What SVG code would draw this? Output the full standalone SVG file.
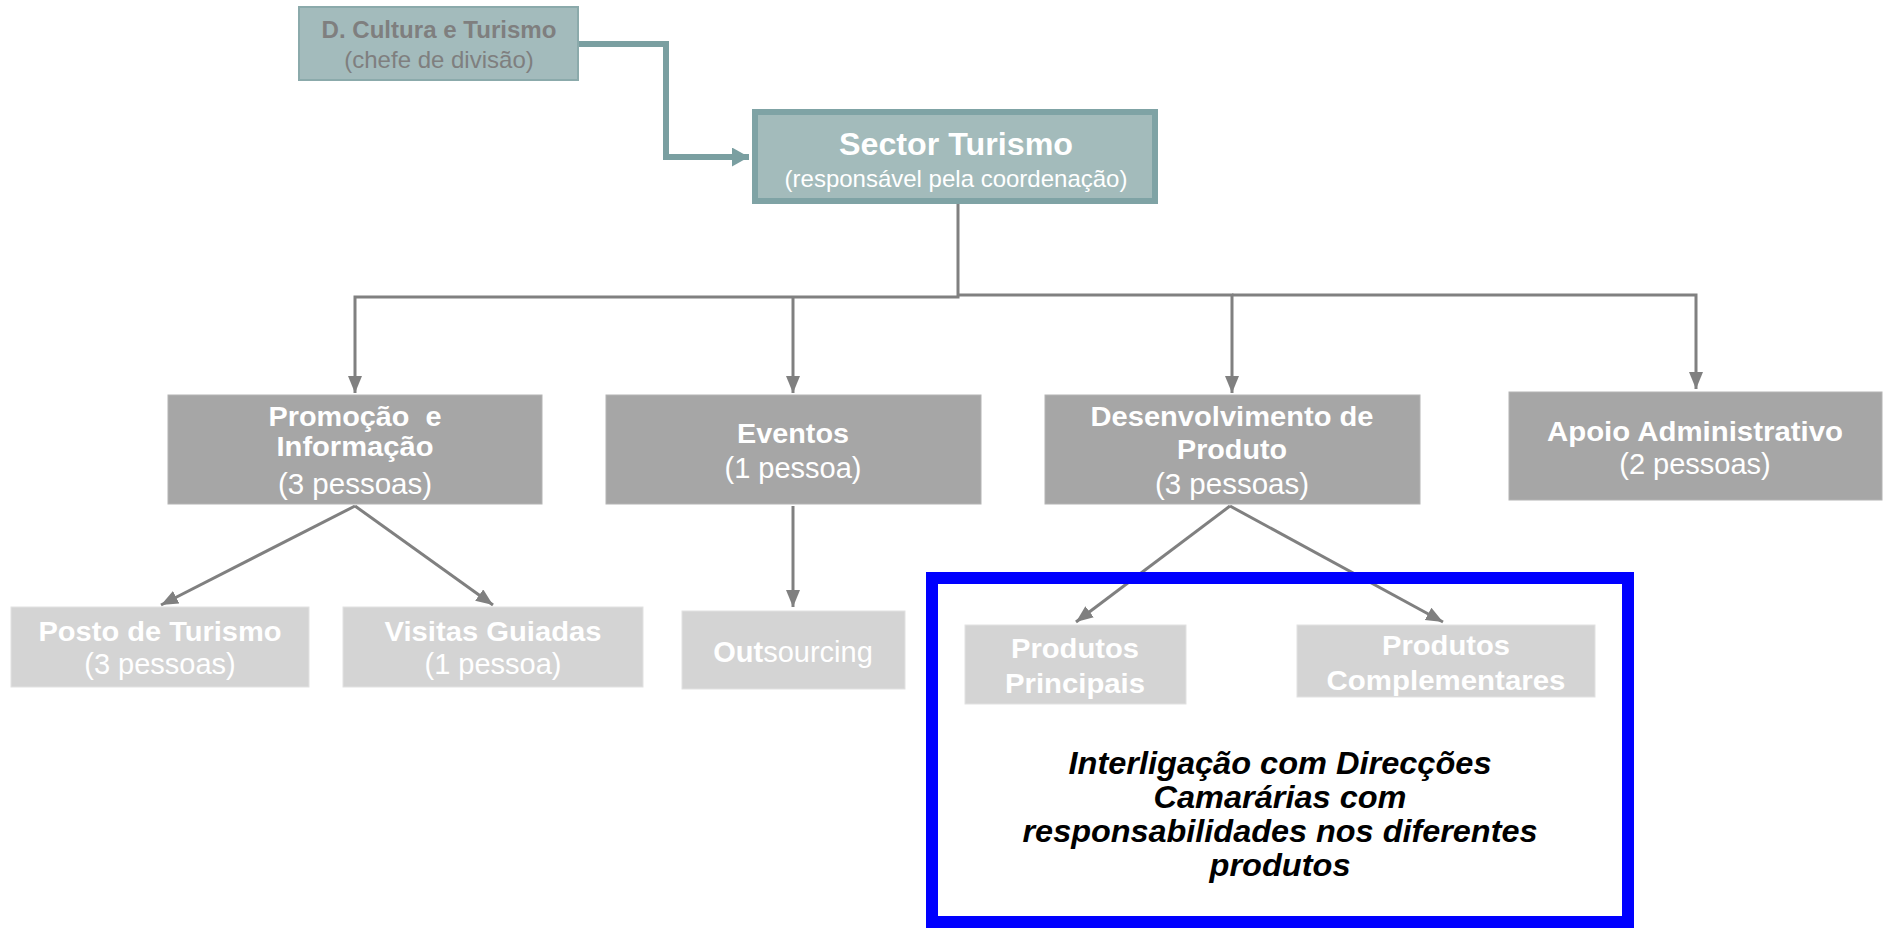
<svg xmlns="http://www.w3.org/2000/svg" width="1885" height="928" viewBox="0 0 1885 928">
<defs>
<style>
.t{font-family:"Liberation Sans",Arial,sans-serif;text-anchor:middle}
.b{font-weight:bold}
.w{fill:#FFFFFF}
.i{font-style:italic;font-weight:bold;fill:#000000;font-size:31px}
.l2{fill:#A6A6A6;stroke:#B4B4B4;stroke-width:1}
.l3{fill:#D4D4D4;stroke:#E2E2E2;stroke-width:1}
.gc{fill:none;stroke:#808080;stroke-width:3}
</style>
<marker id="ag" markerUnits="userSpaceOnUse" markerWidth="18" markerHeight="16" refX="17" refY="7" orient="auto">
<path d="M0,0 L17,7 L0,14 z" fill="#808080"/>
</marker>
<marker id="at" markerUnits="userSpaceOnUse" markerWidth="18" markerHeight="20" refX="17" refY="9.5" orient="auto">
<path d="M0,0 L17,9.5 L0,19 z" fill="#7A9FA1"/>
</marker>
</defs>
<rect width="1885" height="928" fill="#FFFFFF"/>

<g id="connectors">
<path d="M579,44 H666 V157 H749" fill="none" stroke="#7A9FA1" stroke-width="6" marker-end="url(#at)"/>
<path class="gc" d="M958,204 V297 H355 V393" marker-end="url(#ag)"/>
<path class="gc" d="M793,297 V393" marker-end="url(#ag)"/>
<path class="gc" d="M958,295 H1232 V393" marker-end="url(#ag)"/>
<path class="gc" d="M1232,295 H1696 V389" marker-end="url(#ag)"/>
<path class="gc" d="M355,506 L161,605" marker-end="url(#ag)"/>
<path class="gc" d="M355,506 L493,605" marker-end="url(#ag)"/>
<path class="gc" d="M793,506 V607" marker-end="url(#ag)"/>
<path class="gc" d="M1230,506 L1076,622" marker-end="url(#ag)"/>
<path class="gc" d="M1230,506 L1443,622" marker-end="url(#ag)"/>
</g>

<g id="d-cultura">
<rect x="299" y="7" width="279" height="73" fill="#A3BBBC" stroke="#8BAAAB" stroke-width="2"/>
<text class="t b" x="439" y="38" font-size="23" fill="#7F7F7F" textLength="235" lengthAdjust="spacingAndGlyphs">D. Cultura e Turismo</text>
<text class="t" x="439" y="68" font-size="24" fill="#7F7F7F">(chefe de divisão)</text>
</g>

<g id="sector-turismo">
<rect x="755" y="112" width="400" height="89" fill="#A3BBBB" stroke="#7FA3A5" stroke-width="6"/>
<text class="t b w" x="956" y="155" font-size="31.5" textLength="234" lengthAdjust="spacingAndGlyphs">Sector Turismo</text>
<text class="t w" x="956" y="187" font-size="24">(responsável pela coordenação)</text>
</g>

<g id="promocao">
<rect class="l2" x="168" y="395" width="374" height="109"/>
<text class="t b w" x="355" y="426" font-size="28" xml:space="preserve" textLength="173" lengthAdjust="spacingAndGlyphs">Promoção  e</text>
<text class="t b w" x="355" y="456" font-size="28" textLength="157" lengthAdjust="spacingAndGlyphs">Informação</text>
<text class="t w" x="355" y="494" font-size="29.5">(3 pessoas)</text>
</g>

<g id="eventos">
<rect class="l2" x="606" y="395" width="375" height="109"/>
<text class="t b w" x="793" y="443" font-size="28" textLength="112" lengthAdjust="spacingAndGlyphs">Eventos</text>
<text class="t w" x="793" y="478" font-size="29">(1 pessoa)</text>
</g>

<g id="desenvolvimento">
<rect class="l2" x="1045" y="395" width="375" height="109"/>
<text class="t b w" x="1232" y="426" font-size="28" textLength="283" lengthAdjust="spacingAndGlyphs">Desenvolvimento de</text>
<text class="t b w" x="1232" y="459" font-size="28" textLength="110" lengthAdjust="spacingAndGlyphs">Produto</text>
<text class="t w" x="1232" y="494" font-size="29.5">(3 pessoas)</text>
</g>

<g id="apoio">
<rect class="l2" x="1509" y="392" width="373" height="108"/>
<text class="t b w" x="1695" y="441" font-size="28" textLength="296" lengthAdjust="spacingAndGlyphs">Apoio Administrativo</text>
<text class="t w" x="1695" y="474" font-size="29">(2 pessoas)</text>
</g>

<g id="posto">
<rect class="l3" x="11" y="607" width="298" height="80"/>
<text class="t b w" x="160" y="641" font-size="28" textLength="243" lengthAdjust="spacingAndGlyphs">Posto de Turismo</text>
<text class="t w" x="160" y="674" font-size="29">(3 pessoas)</text>
</g>

<g id="visitas">
<rect class="l3" x="343" y="607" width="300" height="80"/>
<text class="t b w" x="493" y="641" font-size="28" textLength="217" lengthAdjust="spacingAndGlyphs">Visitas Guiadas</text>
<text class="t w" x="493" y="674" font-size="29">(1 pessoa)</text>
</g>

<g id="outsourcing">
<rect class="l3" x="682" y="611" width="223" height="78"/>
<text class="t w" x="793" y="662" font-size="29"><tspan font-weight="bold">Out</tspan>sourcing</text>
</g>

<g id="interligacao">
<rect x="932" y="578" width="696" height="344" fill="none" stroke="#0000FF" stroke-width="12"/>
<text class="t i" x="1280" y="774" textLength="423" lengthAdjust="spacingAndGlyphs">Interligação com Direcções</text>
<text class="t i" x="1280" y="808" textLength="253" lengthAdjust="spacingAndGlyphs">Camarárias com</text>
<text class="t i" x="1280" y="842" textLength="515" lengthAdjust="spacingAndGlyphs">responsabilidades nos diferentes</text>
<text class="t i" x="1280" y="876" textLength="141" lengthAdjust="spacingAndGlyphs">produtos</text>
</g>

<g id="produtos-principais">
<rect class="l3" x="965" y="625" width="221" height="79"/>
<text class="t b w" x="1075" y="658" font-size="28" textLength="128" lengthAdjust="spacingAndGlyphs">Produtos</text>
<text class="t b w" x="1075" y="693" font-size="28" textLength="140" lengthAdjust="spacingAndGlyphs">Principais</text>
</g>

<g id="produtos-complementares">
<rect class="l3" x="1297" y="625" width="298" height="72"/>
<text class="t b w" x="1446" y="655" font-size="28" textLength="128" lengthAdjust="spacingAndGlyphs">Produtos</text>
<text class="t b w" x="1446" y="690" font-size="28" textLength="239" lengthAdjust="spacingAndGlyphs">Complementares</text>
</g>
</svg>
